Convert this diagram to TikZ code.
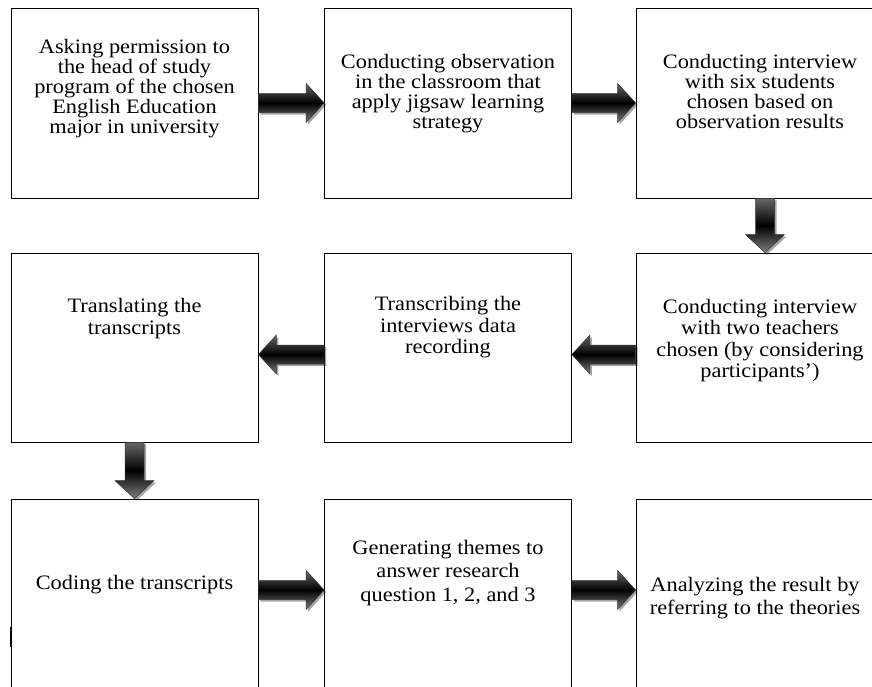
\documentclass[tikz,border=0pt]{standalone}
\usepackage{fontspec}
\setmainfont{Liberation Serif}[FakeStretch=1.09]
\usetikzlibrary{calc, positioning, shadows}
\tikzset{
  stagebox/.style={draw, line width=0.8pt, minimum width=247pt, minimum height=190pt, inner sep=0pt},
  stagetext/.style={align=center, inner sep=0pt, font=\fontsize{20.5}{21.5}\selectfont},
  % line spacing differs a little from row to row
  rowone/.style={font=\fontsize{20.5}{20}\selectfont},
  rowtwo/.style={font=\fontsize{20.5}{21.5}\selectfont},
  rowthree/.style={font=\fontsize{20.5}{23.5}\selectfont},
  flowarrow/.style={draw=black!80, line width=0.5pt, top color=black!60, bottom color=black!50, middle color=black,
    drop shadow={shadow xshift=2pt, shadow yshift=-2pt, opacity=0.35, fill=black}},
}
% block arrow from one anchor to another
\newcommand\bigarrow[2]{%
  \coordinate (arrowstart) at (#1);
  \coordinate (arrowend) at (#2);
  \coordinate (headbase) at ($(arrowend)!18pt!(arrowstart)$);
  \path[flowarrow] ($(arrowstart)!9.5pt!90:(arrowend)$) -- ($(headbase)!9.5pt!90:(arrowend)$)
    -- ($(headbase)!19.5pt!90:(arrowend)$) -- (arrowend) -- ($(headbase)!19.5pt!-90:(arrowend)$)
    -- ($(headbase)!9.5pt!-90:(arrowend)$) -- ($(arrowstart)!9.5pt!-90:(arrowend)$) -- cycle;
}
\begin{document}
\begin{tikzpicture}[x=1pt, y=-1pt]
  \useasboundingbox (0,0) rectangle (872,686);
  \fill[white] (0,0) rectangle (872,686);
  \clip (0,0) rectangle (872,686);
  % ---- row 1
  \node[stagebox] (b1) at (134.5,103) {};
  \node[stagebox] (b2) at (448,103) {};
  \node[stagebox, minimum width=248pt] (b3) at (760,103) {};
  % ---- row 2
  \node[stagebox, minimum height=189pt] (b4) at (134.5,347.5) {};
  \node[stagebox, minimum height=189pt] (b5) at (448,347.5) {};
  \node[stagebox, minimum height=189pt, minimum width=248pt] (b6) at (760,347.5) {};
  % ---- row 3, cut off at the bottom
  \node[stagebox] (b7) at (134.5,594) {};
  \node[stagebox] (b8) at (448,594) {};
  \node[stagebox, minimum width=248pt] (b9) at (760,594) {};
  \draw[line width=2pt] ([yshift=-33pt]b7.west) -- ([yshift=-53pt]b7.west);
  % texts
  \node[stagetext, rowone] (t1) at ([yshift=14pt]b1.center) {Asking permission to\\the head of study\\program of the chosen\\English Education\\major in university};
  \node[stagetext, rowone] (t2) at ([yshift=9pt]b2.center) {Conducting observation\\in the classroom that\\apply jigsaw learning\\strategy};
  \node[stagetext, rowone] (t3) at ([yshift=12pt]b3.center) {Conducting interview\\with six students\\chosen based on\\observation results};
  \node[stagetext, rowtwo] (t4) at ([yshift=29pt]b4.center) {Translating the\\transcripts};
  \node[stagetext, rowtwo] (t5) at ([yshift=20pt]b5.center) {Transcribing the\\interviews data\\recording};
  \node[stagetext, rowtwo] (t6) at ([yshift=7pt]b6.center) {Conducting interview\\with two teachers\\chosen (by considering\\participants’)};
  \node[stagetext, rowthree] (t7) at ([yshift=9pt]b7.center) {Coding the transcripts};
  \node[stagetext, rowthree] (t8) at ([yshift=21pt]b8.center) {Generating themes to\\answer research\\question 1, 2, and 3};
  \node[stagetext, rowthree] (t9) at ([xshift=-5pt, yshift=-4pt]b9.center) {Analyzing the result by\\referring to the theories};
  % arrows
  \bigarrow{b1.east}{b2.west}
  \bigarrow{b2.east}{b3.west}
  \bigarrow{[xshift=5pt]b3.south}{[xshift=5pt]b6.north}
  \bigarrow{[yshift=-7pt]b6.west}{[yshift=-7pt]b5.east}
  \bigarrow{[yshift=-7pt]b5.west}{[yshift=-7pt]b4.east}
  \bigarrow{b4.south}{b7.north}
  \bigarrow{[yshift=4pt]b7.east}{[yshift=4pt]b8.west}
  \bigarrow{[yshift=4pt]b8.east}{[yshift=4pt]b9.west}
\end{tikzpicture}
\end{document}
